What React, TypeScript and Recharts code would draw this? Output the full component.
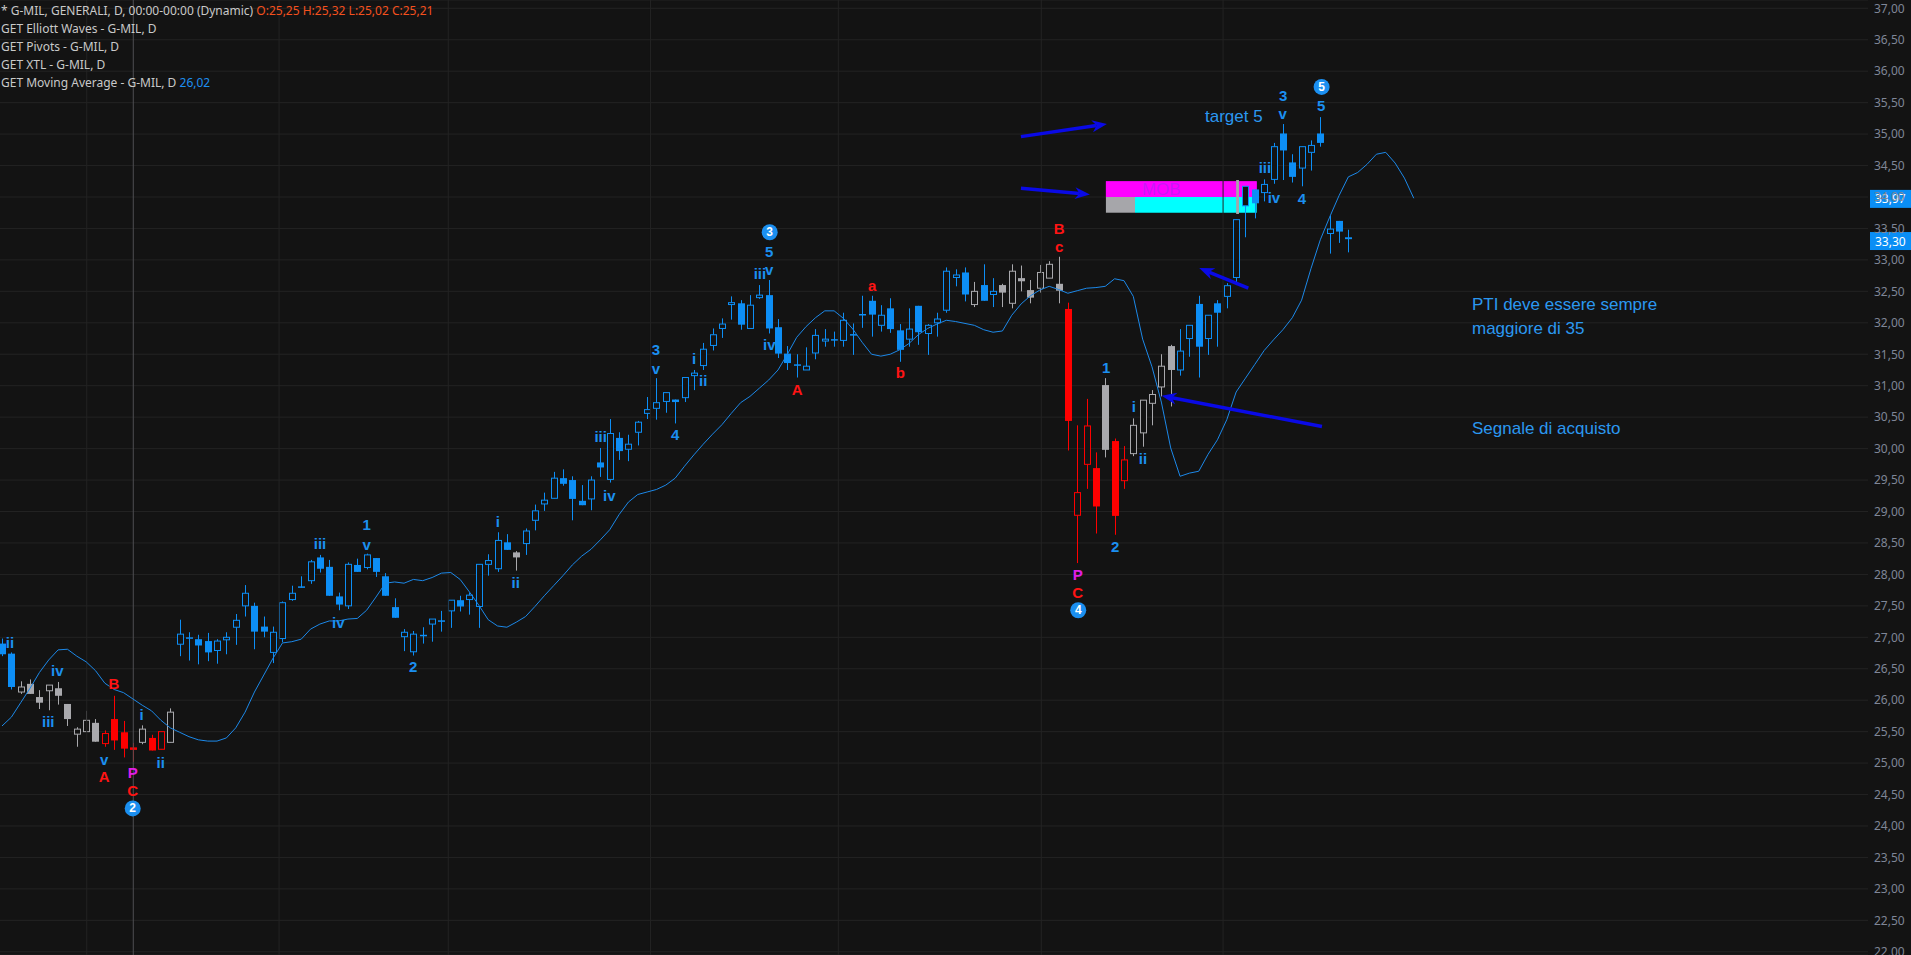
import React from "react";
import {
  ComposedChart,
  Bar,
  Line,
  Scatter,
  XAxis,
  YAxis,
  CartesianGrid,
  ReferenceLine,
  ReferenceArea,
} from "recharts";

const BG = "#131313";

// daily bars, G-MIL GENERALI
const opens = [
  26.9, 26.74, 26.13, 26.26, 26.05, 26.15, 26.19, 25.94, 25.46, 25.5,
  25.64, 25.31, 25.7, 25.49, 25.25, 25.33, 25.4, 25.22, 25.33, 26.89,
  27.0, 26.97, 26.94, 26.79, 26.96, 27.16, 27.5, 27.5, 27.17, 26.76,
  26.98, 27.6, 27.81, 27.9, 28.27, 28.12, 27.65, 27.5, 28.15, 28.11,
  28.26, 27.97, 27.48, 27.01, 26.77, 27.04, 27.21, 27.27, 27.42, 27.59,
  27.6, 27.49, 28.16, 28.09, 28.51, 28.35, 28.49, 28.86, 29.12, 29.21,
  29.53, 29.5, 29.17, 29.2, 29.78, 29.51, 30.17, 29.99, 30.26, 30.56,
  30.64, 30.75, 30.78, 30.81, 31.16, 31.32, 31.64, 31.91, 32.29, 32.31,
  31.91, 32.4, 32.44, 31.93, 31.51, 31.34, 31.25, 31.52, 31.71, 31.74,
  31.72, 31.82, 32.14, 32.35, 31.96, 32.23, 31.88, 31.74, 32.27, 31.83,
  32.0, 32.2, 32.72, 32.8, 32.29, 32.6, 32.45, 32.6, 32.31, 32.71,
  32.52, 32.55, 32.71, 32.62, 32.22, 28.94, 29.75, 29.69, 31.01, 30.12,
  29.49, 29.92, 30.25, 30.72, 30.98, 31.63, 31.25, 31.75, 32.3, 31.75,
  32.31, 32.42, 32.72, 33.86, 34.12, 34.07, 34.28, 35.01, 34.55, 34.46,
  34.71, 35.01, 33.42, 33.62, 33.36,
];
const highs = [
  26.98, 26.76, 26.3, 26.33, 26.16, 26.24, 26.29, 25.94, 25.57, 25.83,
  25.7, 25.52, 26.07, 25.67, 25.32, 25.6, 25.45, 25.5, 25.87, 27.28,
  27.08, 27.04, 27.07, 26.97, 27.08, 27.37, 27.83, 27.55, 27.33, 27.17,
  27.57, 27.82, 27.97, 28.23, 28.31, 28.23, 27.71, 28.19, 28.25, 28.33,
  28.26, 28.02, 27.62, 27.13, 27.1, 27.16, 27.29, 27.42, 27.59, 27.66,
  27.71, 28.16, 28.32, 28.67, 28.64, 28.37, 28.73, 29.11, 29.3, 29.63,
  29.67, 29.56, 29.42, 29.56, 30.01, 30.47, 30.26, 30.22, 30.44, 30.82,
  31.12, 30.89, 30.78, 31.13, 31.25, 31.68, 31.91, 32.07, 32.42, 32.36,
  32.44, 32.6, 32.68, 32.06, 31.63, 31.5, 31.61, 31.9, 31.9, 31.86,
  32.16, 31.99, 32.43, 32.43, 32.28, 32.39, 31.98, 32.23, 32.27, 31.98,
  32.16, 32.88, 32.85, 32.88, 32.65, 32.93, 32.71, 32.62, 32.93, 32.91,
  32.68, 32.92, 32.98, 33.05, 32.32, 30.37, 30.79, 29.94, 31.12, 30.16,
  30.04, 30.48, 30.77, 30.93, 31.5, 31.65, 31.9, 31.96, 32.43, 32.12,
  32.36, 32.63, 33.64, 34.17, 34.12, 34.28, 34.86, 35.16, 34.68, 34.8,
  34.9, 35.27, 33.7, 33.62, 33.48,
];
const lows = [
  26.7, 26.17, 26.1, 26.1, 25.86, 25.84, 25.93, 25.59, 25.26, 25.5,
  25.34, 25.26, 25.21, 25.09, 25.02, 25.3, 25.2, 25.22, 25.33, 26.7,
  26.63, 26.57, 26.62, 26.58, 26.73, 26.88, 27.33, 26.81, 27.0, 26.59,
  26.92, 27.58, 27.79, 27.85, 28.03, 27.66, 27.43, 27.45, 28.04, 28.08,
  27.96, 27.66, 27.31, 26.78, 26.71, 26.9, 26.93, 27.09, 27.15, 27.41,
  27.36, 27.15, 27.98, 28.04, 28.39, 28.06, 28.31, 28.7, 29.01, 29.21,
  29.41, 28.86, 29.1, 29.02, 29.55, 29.46, 29.82, 29.8, 30.05, 30.47,
  30.46, 30.57, 30.4, 30.74, 30.93, 31.25, 31.56, 31.76, 32.05, 31.89,
  31.91, 32.38, 31.83, 31.44, 31.25, 31.13, 31.25, 31.42, 31.62, 31.62,
  31.62, 31.49, 31.92, 31.78, 31.86, 31.84, 31.38, 31.62, 31.65, 31.49,
  31.78, 32.16, 32.58, 32.34, 32.25, 32.35, 32.25, 32.25, 32.23, 32.5,
  32.31, 32.48, 32.71, 32.31, 29.97, 28.18, 29.36, 28.65, 29.86, 28.63,
  29.36, 29.88, 30.03, 30.37, 30.83, 30.67, 31.16, 31.46, 31.13, 31.49,
  31.62, 32.23, 32.6, 33.36, 33.66, 33.93, 34.21, 34.27, 34.23, 34.17,
  34.42, 34.8, 33.1, 33.27, 33.12,
];
const closes = [
  26.73, 26.21, 26.21, 26.1, 25.96, 26.24, 26.07, 25.7, 25.54, 25.68,
  25.34, 25.47, 25.36, 25.23, 25.21, 25.54, 25.2, 25.5, 25.81, 27.05,
  26.98, 26.87, 26.76, 26.94, 27.0, 27.27, 27.7, 27.09, 27.09, 27.08,
  27.55, 27.7, 27.79, 28.2, 28.09, 27.66, 27.52, 28.16, 28.04, 28.31,
  28.04, 27.66, 27.31, 27.08, 27.05, 27.02, 27.29, 27.25, 27.59, 27.49,
  27.67, 28.16, 28.22, 28.54, 28.39, 28.27, 28.69, 29.01, 29.18, 29.53,
  29.44, 29.2, 29.1, 29.5, 29.7, 30.24, 29.96, 30.07, 30.42, 30.62,
  30.73, 30.89, 30.74, 31.13, 31.2, 31.58, 31.81, 31.98, 32.32, 31.97,
  32.28, 32.44, 31.91, 31.51, 31.36, 31.32, 31.31, 31.8, 31.74, 31.72,
  32.04, 31.8, 32.12, 32.13, 32.12, 31.9, 31.57, 31.9, 31.85, 31.96,
  32.06, 32.82, 32.76, 32.45, 32.5, 32.35, 32.5, 32.48, 32.82, 32.66,
  32.4, 32.8, 32.93, 32.51, 30.44, 29.3, 30.36, 29.08, 29.98, 28.93,
  29.82, 30.37, 30.77, 30.86, 31.31, 31.25, 31.55, 31.96, 31.62, 32.12,
  32.16, 32.59, 33.64, 34.17, 33.9, 34.2, 34.8, 34.74, 34.32, 34.8,
  34.82, 34.86, 33.49, 33.45, 33.33,
];
// bar colouring of the wave tool: b = impulse, g = neutral, r = correction
const tones = (
  "bbgggggggggrrrrgrrg" +
  "bbbbbbbbbbbbbbbbbbbbbbbbbbbbbbbbbbbb" +
  "g" +
  "bbbbbbbbbbbbbbbbbbbbbbbbbbbbbbbbbbbbbbbbbbbbbbbb" +
  "gbbgggggggrrrrgrrggggg" +
  "bbbbbbbbbbbbbbbbbbb"
).split("");
// GET Moving Average (displaced forward)
const movingAvg = [
  25.59, 25.73, 25.96, 26.19, 26.44, 26.64, 26.8, 26.81, 26.7, 26.61,
  26.47, 26.27, 26.17, 26.12, 26.02, 25.92, 25.83, 25.68, 25.56, 25.49,
  25.42, 25.37, 25.35, 25.35, 25.4, 25.56, 25.81, 26.13, 26.4, 26.67,
  26.91, 26.93, 26.97, 27.13, 27.21, 27.26, 27.26, 27.29, 27.3, 27.43,
  27.64, 27.86, 27.88, 27.86, 27.92, 27.9, 27.95, 28.02, 28.03, 27.92,
  27.72, 27.51, 27.28, 27.18, 27.16, 27.24, 27.33, 27.49, 27.66, 27.82,
  27.98, 28.15, 28.29, 28.4, 28.55, 28.71, 28.95, 29.15, 29.27, 29.31,
  29.35, 29.42, 29.53, 29.72, 29.9, 30.07, 30.23, 30.38, 30.56, 30.73,
  30.83, 30.96, 31.09, 31.25, 31.5, 31.77, 31.94, 32.08, 32.19, 32.19,
  32.07, 31.9, 31.69, 31.5, 31.47, 31.5, 31.57, 31.67, 31.81, 31.91,
  31.98, 32.04, 32.02, 31.99, 31.96, 31.89, 31.85, 31.87, 32.12, 32.3,
  32.43, 32.52, 32.58, 32.53, 32.47, 32.51, 32.55, 32.56, 32.58, 32.7,
  32.67, 32.42, 31.74, 31.3, 30.74, 30.01, 29.56, 29.61, 29.64, 29.91,
  30.14, 30.46, 30.9, 31.12, 31.34, 31.56, 31.73, 31.89, 32.08, 32.36,
  32.86, 33.32, 33.68, 34.02, 34.32, 34.39, 34.52, 34.68, 34.71, 34.54,
  34.3, 33.98,
];

const priceTicks = [
  22, 22.5, 23, 23.5, 24, 24.5, 25, 25.5, 26, 26.5, 27, 27.5, 28, 28.5, 29,
  29.5, 30, 30.5, 31, 31.5, 32, 32.5, 33, 33.5, 34, 34.5, 35, 35.5, 36, 36.5, 37,
];
// month separators (bar index)
const monthStarts = [9.06, 29.63, 47.73, 69.36, 89.45, 111.16, 130.6];

// Elliott wave labels: bar index, price, text, kind
const waveLabels = [
  { i: 0.86, p: 26.91, t: "ii", k: "w" },
  { i: 5.91, p: 26.47, t: "iv", k: "w" },
  { i: 4.95, p: 25.66, t: "iii", k: "w" },
  { i: 11.98, p: 26.26, t: "B", k: "r" },
  { i: 10.94, p: 25.06, t: "v", k: "w" },
  { i: 10.94, p: 24.78, t: "A", k: "r" },
  { i: 14.94, p: 25.78, t: "i", k: "w" },
  { i: 13.98, p: 24.85, t: "P", k: "m" },
  { i: 13.98, p: 24.56, t: "C", k: "r" },
  { i: 13.98, p: 24.28, t: "2", k: "c" },
  { i: 16.97, p: 25.01, t: "ii", k: "w" },
  { i: 34.01, p: 28.49, t: "iii", k: "w" },
  { i: 35.97, p: 27.24, t: "iv", k: "w" },
  { i: 39.0, p: 28.79, t: "1", k: "w" },
  { i: 39.0, p: 28.48, t: "v", k: "w" },
  { i: 43.99, p: 26.53, t: "2", k: "w" },
  { i: 53.02, p: 28.84, t: "i", k: "w" },
  { i: 54.94, p: 27.87, t: "ii", k: "w" },
  { i: 64.03, p: 30.19, t: "iii", k: "w" },
  { i: 64.95, p: 29.25, t: "iv", k: "w" },
  { i: 69.95, p: 31.58, t: "3", k: "w" },
  { i: 69.95, p: 31.28, t: "v", k: "w" },
  { i: 72.01, p: 30.22, t: "4", k: "w" },
  { i: 74.01, p: 31.44, t: "i", k: "w" },
  { i: 75.0, p: 31.08, t: "ii", k: "w" },
  { i: 81.07, p: 32.79, t: "iii", k: "w" },
  { i: 82.06, p: 32.85, t: "v", k: "w" },
  { i: 82.06, p: 33.14, t: "5", k: "w" },
  { i: 82.11, p: 33.44, t: "3", k: "c" },
  { i: 82.06, p: 31.66, t: "iv", k: "w" },
  { i: 85.06, p: 30.94, t: "A", k: "r" },
  { i: 93.08, p: 32.6, t: "a", k: "r" },
  { i: 96.07, p: 31.21, t: "b", k: "r" },
  { i: 113.08, p: 33.5, t: "B", k: "r" },
  { i: 113.08, p: 33.21, t: "c", k: "r" },
  { i: 118.11, p: 31.29, t: "1", k: "w" },
  { i: 115.05, p: 28.0, t: "P", k: "m" },
  { i: 115.05, p: 27.71, t: "C", k: "r" },
  { i: 115.11, p: 27.43, t: "4", k: "c" },
  { i: 119.07, p: 28.45, t: "2", k: "w" },
  { i: 121.07, p: 30.67, t: "i", k: "w" },
  { i: 122.03, p: 29.85, t: "ii", k: "w" },
  { i: 135.08, p: 34.47, t: "iii", k: "w" },
  { i: 136.04, p: 33.99, t: "iv", k: "w" },
  { i: 137.04, p: 35.62, t: "3", k: "w" },
  { i: 136.97, p: 35.32, t: "v", k: "w" },
  { i: 139.04, p: 33.98, t: "4", k: "w" },
  { i: 141.1, p: 35.46, t: "5", k: "w" },
  { i: 141.14, p: 35.75, t: "5", k: "c" },
];

// hand-drawn arrows: tail -> head (bar index, price)
const arrows = [
  { from: [108.98, 34.96], to: [118.18, 35.16] },
  { from: [108.98, 34.14], to: [116.36, 34.04] },
  { from: [133.3, 32.55], to: [128.05, 32.87] },
  { from: [141.18, 30.35], to: [124.03, 30.84] },
];

const toneColors: Record<string, string> = { b: "#0d8ef5", g: "#a9a9ad", r: "#ff0000" };
const labelColors: Record<string, string> = { w: "#1b8ff0", r: "#ff1414", m: "#e01ee6" };

const rows = movingAvg.map((ma, i) => ({
  i,
  ma,
  o: opens[i],
  h: highs[i],
  l: lows[i],
  c: closes[i],
  tone: tones[i],
}));

const Candle = (props: any) => {
  const { x, y, width, height, payload } = props;
  if (!payload || payload.o == null) return null;
  const { o, h, l, c, tone } = payload;
  const top = Math.min(y, y + height);
  const span = Math.abs(height);
  const ppu = span / (h - l);
  const cx = Math.round(x + width / 2) + 0.5;
  const color = toneColors[tone];
  const bodyTop = top + (h - Math.max(o, c)) * ppu;
  const bodyH = Math.max(Math.abs(o - c) * ppu, 1.5);
  const hollow = c > o;
  return (
    <g>
      <line x1={cx} x2={cx} y1={top} y2={top + span} stroke={color} strokeWidth={1} />
      {hollow ? (
        <rect x={cx - 3} y={bodyTop} width={6} height={bodyH} fill={BG} stroke={color} strokeWidth={1} />
      ) : (
        <rect x={cx - 3.5} y={bodyTop} width={7} height={bodyH} fill={color} />
      )}
    </g>
  );
};

const WaveMark = (props: any) => {
  const { cx, cy, payload } = props;
  if (payload.k === "c") {
    return (
      <g>
        <circle cx={cx} cy={cy} r={8} fill="#1b8ff0" />
        <text x={cx} y={cy} textAnchor="middle" dominantBaseline="central" fill="#fff"
          fontSize={12} fontWeight="bold" fontFamily="Liberation Sans">
          {payload.t}
        </text>
      </g>
    );
  }
  return (
    <text x={cx} y={cy} textAnchor="middle" dominantBaseline="central" fill={labelColors[payload.k]}
      fontSize={15} fontWeight="bold" fontFamily="Liberation Sans">
      {payload.t}
    </text>
  );
};

const ArrowShape = (props: any) => {
  const { x1, y1, x2, y2 } = props;
  const a = Math.atan2(y2 - y1, x2 - x1);
  const cos = Math.cos(a);
  const sin = Math.sin(a);
  const len = 15;
  const wid = 6;
  const bx = x2 - len * cos;
  const by = y2 - len * sin;
  const nx = x2 - len * 0.7 * cos;
  const ny = y2 - len * 0.7 * sin;
  const pts = [
    [x2, y2],
    [bx - wid * sin, by + wid * cos],
    [nx, ny],
    [bx + wid * sin, by - wid * cos],
  ]
    .map((q) => q.join(","))
    .join(" ");
  return (
    <g>
      <line x1={x1} y1={y1} x2={nx} y2={ny} stroke="#0a0ae6" strokeWidth={3.5} />
      <polygon points={pts} fill="#0a0ae6" />
    </g>
  );
};

const PriceBadge = (props: any) => {
  const { viewBox, text } = props;
  if (!viewBox) return null;
  const x = viewBox.x + viewBox.width + 2;
  const y = viewBox.y;
  return (
    <g>
      <rect x={x} y={y - 9} width={43} height={18} fill="#0a8ef5" />
      <text x={x + 5} y={y} dominantBaseline="central" fill="#ffffff" fontSize={12} fontFamily="Noto Sans">
        {text}
      </text>
    </g>
  );
};

const MobText = (props: any) => {
  const { viewBox } = props;
  if (!viewBox) return null;
  return (
    <text x={viewBox.x + 36} y={viewBox.y + 14} fill="#2a62d8" fontSize={17}
      fontFamily="Liberation Sans">
      MOB
    </text>
  );
};

const headerFont = '12px "Noto Sans", sans-serif';
const noteStyle: React.CSSProperties = {
  position: "absolute",
  font: '17px "Liberation Sans", Arial, sans-serif',
  color: "#2b98f0",
  whiteSpace: "nowrap",
  lineHeight: "20px",
};

export default function App() {
  return (
    <div style={{ position: "relative", width: 1911, height: 955, overflow: "hidden", background: BG }}>
      <style>{`body{margin:0;background:${BG};}`}</style>
      <ComposedChart
        width={1911}
        height={955}
        data={rows}
        margin={{ top: 0, right: 0, bottom: 0, left: 0 }}
        style={{ position: "absolute", left: 0, top: 0 }}
      >
        <CartesianGrid vertical={false} stroke="#232323" />
        <XAxis
          hide
          type="number"
          dataKey="i"
          domain={[-0.214, 199.58]}
          allowDataOverflow
        />
        <YAxis
          orientation="right"
          width={43}
          domain={[21.949, 37.132]}
          allowDataOverflow
          ticks={priceTicks}
          interval={0}
          axisLine={false}
          tickLine={false}
          tickSize={0}
          tickMargin={6}
          tick={{ fill: "#7f8697", fontSize: 12, fontFamily: "Noto Sans", textAnchor: "start" }}
          tickFormatter={(v: number) => v.toFixed(2).replace(".", ",")}
        />
        {monthStarts.map((m) => (
          <ReferenceLine key={m} x={m} stroke="#232323" strokeWidth={1} />
        ))}
        <ReferenceLine x={14.04} stroke="#4e4e52" strokeWidth={1} />
        <Line
          dataKey="ma"
          type="linear"
          stroke="#1c88e8"
          strokeWidth={1}
          dot={false}
          activeDot={false}
          isAnimationActive={false}
        />
        <Bar
          dataKey={(d: any) => (d.o == null ? null : [d.l, d.h])}
          barSize={7}
          shape={Candle}
          isAnimationActive={false}
        />
        <ReferenceArea x1={118.07} x2={134.2} y1={34.0} y2={34.25} fill="#ff00ff" fillOpacity={1} stroke="none"
          label={<MobText />} />
        <ReferenceArea x1={118.07} x2={134.2} y1={34.0} y2={34.25} fill="#ff00ff" fillOpacity={0.75} stroke="none" />
        <ReferenceArea x1={121.18} x2={134.2} y1={33.75} y2={34.0} fill="#00ffff" fillOpacity={1} stroke="none" />
        <ReferenceArea x1={118.07} x2={121.18} y1={33.75} y2={34.0} fill="#a6a6aa" fillOpacity={1} stroke="none" />
        <ReferenceArea x1={132.0} x2={132.3} y1={33.73} y2={34.27} fill="#a6a6aa" fillOpacity={1} stroke="none" />
        {arrows.map((a, n) => (
          <ReferenceLine
            key={n}
            segment={[
              { x: a.from[0], y: a.from[1] },
              { x: a.to[0], y: a.to[1] },
            ]}
            shape={ArrowShape}
          />
        ))}
        <Scatter data={waveLabels} dataKey="p" shape={WaveMark} isAnimationActive={false} />
        <ReferenceLine y={33.97} stroke="none" label={<PriceBadge text="33,97" />} />
        <ReferenceLine y={33.3} stroke="none" label={<PriceBadge text="33,30" />} />
      </ComposedChart>

      <div style={{ position: "absolute", left: 1, top: 2, font: headerFont, color: "#c9c9c9", lineHeight: "18px", whiteSpace: "nowrap" }}>
        <div>
          * G-MIL, GENERALI, D, 00:00-00:00 (Dynamic){" "}
          <span style={{ color: "#f4511e" }}>O:25,25 H:25,32 L:25,02 C:25,21</span>
        </div>
        <div>GET Elliott Waves - G-MIL, D</div>
        <div>GET Pivots - G-MIL, D</div>
        <div>GET XTL - G-MIL, D</div>
        <div>
          GET Moving Average - G-MIL, D <span style={{ color: "#1e8ff0" }}>26,02</span>
        </div>
      </div>

      <div style={{ ...noteStyle, left: 1205, top: 107 }}>target 5</div>
      <div style={{ ...noteStyle, left: 1472, top: 295 }}>PTI deve essere sempre</div>
      <div style={{ ...noteStyle, left: 1472, top: 319 }}>maggiore di 35</div>
      <div style={{ ...noteStyle, left: 1472, top: 419 }}>Segnale di acquisto</div>
    </div>
  );
}
